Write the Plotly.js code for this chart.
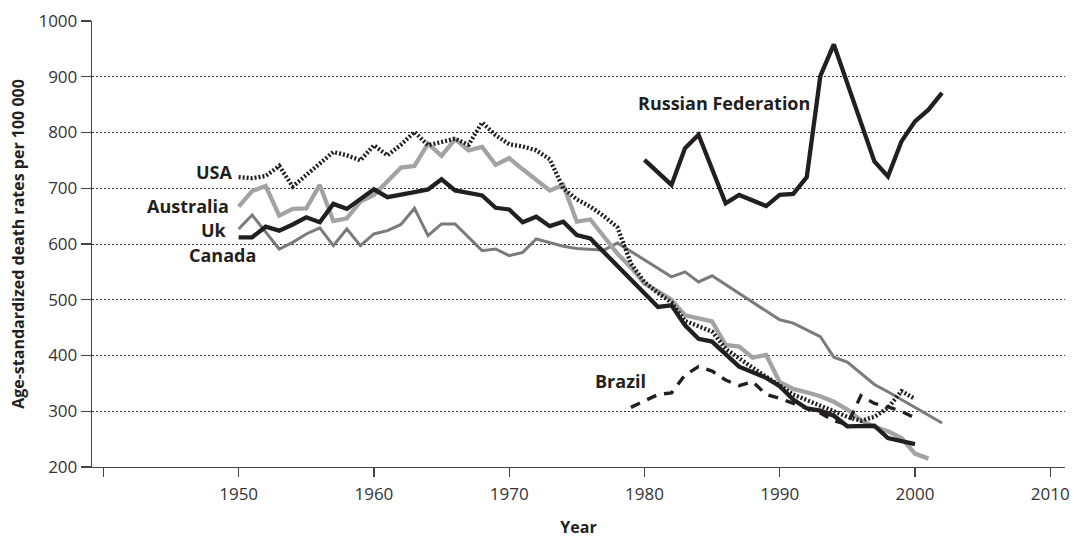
<!DOCTYPE html>
<html>
<head>
<meta charset="utf-8">
<script src="https://cdn.plot.ly/plotly-3.0.1.min.js"></script>
<style>html,body{margin:0;padding:0;background:#fff;}#chart{width:1074px;height:538px;}</style>
</head>
<body>
<div id="chart"></div>
<script>
// ---- data ----
const ukYears = [1950,1951,1952,1953,1954,1955,1956,1957,1958,1959,1960,1961,1962,1963,1964,1965,1966,1967,1968,1969,1970,1971,1972,1973,1974,1975,1976,1981,1982,1983,1984,1985,1987,1989,1990,1991,1992,1993,1994,1995,1996,1997,1998,1999,2000];
const ukValues = [612,612,631,624,635,648,639,672,663,680,698,684,688,693,698,716,696,692,687,665,662,639,649,632,640,616,610,487,490,454,430,425,380,360,345,321,305,301,292,273,274,274,252,247,241];

const ausYears = [1950,1951,1952,1953,1954,1955,1956,1957,1958,1959,1960,1961,1962,1963,1964,1965,1966,1967,1968,1969,1970,1971,1972,1973,1974,1975,1976,1977,1978,1979,1980,1981,1982,1983,1984,1985,1986,1987,1988,1989,1990,1991,1992,1993,1994,1995,1996,1997,1998,1999,2000,2001];
const ausValues = [667,695,704,651,663,664,706,641,646,676,688,713,737,740,780,758,788,768,774,742,754,734,716,696,706,640,644,613,583,558,529,515,500,472,466,461,419,416,396,401,352,340,334,327,317,303,284,272,264,252,224,215];

const canYears = [1950,1951,1953,1954,1955,1956,1957,1958,1959,1960,1961,1962,1963,1964,1965,1966,1968,1969,1970,1971,1972,1973,1974,1975,1977,1978,1982,1983,1984,1985,1986,1990,1991,1993,1994,1995,1997,1998,2002];
const canValues = [627,652,591,603,618,629,597,627,597,618,624,635,664,615,636,636,588,591,579,585,609,603,596,592,589,602,541,550,532,543,527,464,458,434,397,388,348,335,279];

const usaYears = [1950,1951,1952,1953,1954,1957,1958,1959,1960,1961,1962,1963,1964,1965,1966,1967,1968,1969,1970,1971,1972,1973,1974,1975,1976,1977,1978,1979,1980,1981,1982,1983,1984,1985,1986,1987,1988,1989,1990,1991,1992,1993,1994,1995,1996,1997,1998,1999,2000];
const usaValues = [720,718,722,740,703,765,759,750,777,759,778,801,777,783,789,778,818,795,779,775,768,752,700,680,667,650,630,565,532,512,495,462,452,443,412,394,378,362,345,330,320,310,300,290,283,290,306,336,322];

const braYears = [1979,1981,1982,1983,1984,1985,1986,1987,1988,1989,1990,1991,1992,1993,1994,1995,1996,1997,1998,1999,2000];
const braValues = [307,330,333,365,380,372,356,346,353,330,323,314,305,297,283,276,328,314,308,300,288];

const rusYears = [1980,1982,1983,1984,1986,1987,1989,1990,1991,1992,1993,1994,1997,1998,1999,2000,2001,2002];
const rusValues = [751,706,772,796,673,688,668,688,690,720,901,958,748,721,784,820,841,871];

const xTickVals = [1940,1950,1960,1970,1980,1990,2000,2010];
const xTickText = ['','1950','1960','1970','1980','1990','2000','2010'];
const yTickVals = [200,300,400,500,600,700,800,900,1000];

// ---- styles ----
const BLACK = '#231f20';
const LIGHT = '#a3a3a3';
const MID = '#7b7b7b';

function tr(x, y, name, line) {
  return {x: x, y: y, name: name, type: 'scatter', mode: 'lines', line: line, hoverinfo: 'skip', showlegend: false};
}

const data = [
  tr(canYears, canValues, 'Canada', {color: MID, width: 3}),
  tr(ausYears, ausValues, 'Australia', {color: LIGHT, width: 4.3}),
  tr(ukYears, ukValues, 'Uk', {color: BLACK, width: 4.3}),
  tr(braYears, braValues, 'Brazil', {color: BLACK, width: 3.4, dash: '10px,8px'}),
  tr(usaYears, usaValues, 'USA', {color: BLACK, width: 4.3, dash: '2px,2px'}),
  tr(rusYears, rusValues, 'Russian Federation', {color: BLACK, width: 4.3})
];

const labFont = {family: 'Open Sans, sans-serif', size: 18, color: BLACK};
function lab(text, x, y, xanchor) {
  return {text: '<b>' + text + '</b>', x: x, y: y, xref: 'x', yref: 'y', showarrow: false,
          xanchor: xanchor, yanchor: 'middle', font: labFont};
}

const layout = {
  width: 1074, height: 538,
  margin: {l: 92, r: 9, t: 21, b: 71},
  paper_bgcolor: '#fff', plot_bgcolor: '#fff',
  showlegend: false,
  xaxis: {
    range: [1939.16, 2011.09],
    tickmode: 'array', tickvals: xTickVals, ticktext: xTickText,
    ticks: 'outside', ticklen: 9, tickwidth: 1.3, tickcolor: '#444',
    showline: true, linecolor: '#444', linewidth: 1.3,
    showgrid: false, zeroline: false,
    tickfont: {family: 'Open Sans, sans-serif', size: 17, color: '#333'},
    ticklabelstandoff: 2,
    title: {text: '<b>Year</b>', font: {family: 'Open Sans, sans-serif', size: 16, color: BLACK}, standoff: 20},
    automargin: false
  },
  yaxis: {
    range: [200, 1000],
    tickmode: 'array', tickvals: yTickVals,
    ticks: 'outside', ticklen: 10, tickwidth: 1.3, tickcolor: '#444',
    showline: true, linecolor: '#444', linewidth: 1.3,
    showgrid: true, gridcolor: '#333', gridwidth: 1, griddash: '2px,2px',
    zeroline: false,
    tickfont: {family: 'Open Sans, sans-serif', size: 17, color: '#333'},
    title: {text: '<b>Age-standardized death rates per 100 000</b>', font: {family: 'Open Sans, sans-serif', size: 16, color: BLACK}, standoff: 9},
    automargin: false
  },
  annotations: [
    lab('USA', 1949.75, 729, 'right'),
    lab('Australia', 1949.45, 668, 'right'),
    lab('Uk', 1949.3, 625, 'right'),
    lab('Canada', 1951.45, 580, 'right'),
    lab('Russian Federation', 1979.35, 853, 'left'),
    lab('Brazil', 1976.2, 354, 'left')
  ]
};

Plotly.newPlot('chart', data, layout, {staticPlot: true, displayModeBar: false});
</script>
</body>
</html>
